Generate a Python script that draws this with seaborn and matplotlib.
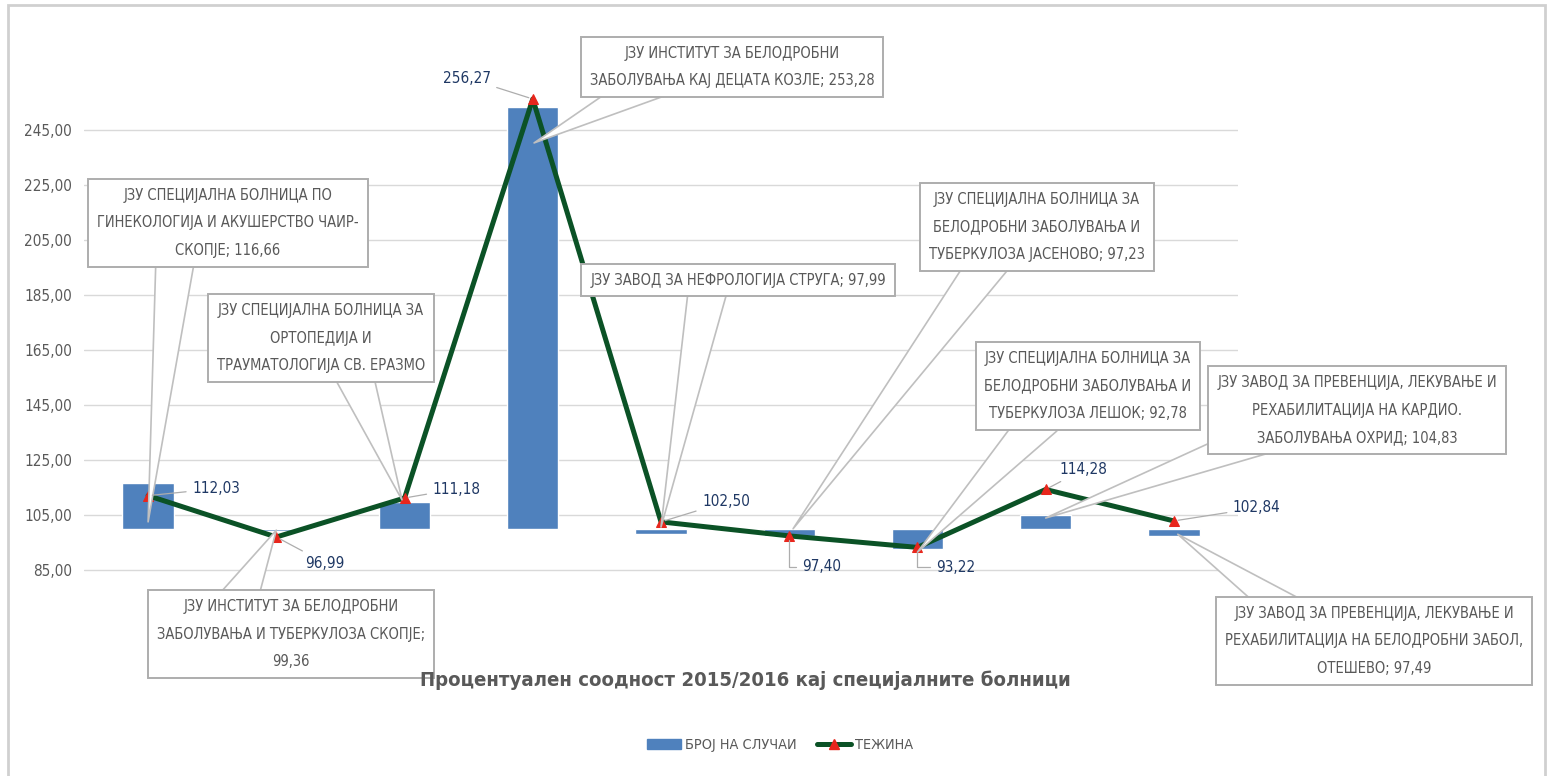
import numpy as np
import pandas as pd
import matplotlib
matplotlib.use("Agg")
import matplotlib.pyplot as plt
import seaborn as sns
from matplotlib.patches import Rectangle, Patch
from matplotlib.lines import Line2D

# hospital names (callout text, {v} = value of bar)
hospitals = [
    "ЈЗУ СПЕЦИЈАЛНА БОЛНИЦА ПО\nГИНЕКОЛОГИЈА И АКУШЕРСТВО ЧАИР-\nСКОПЈЕ; {v}",
    "ЈЗУ ИНСТИТУТ ЗА БЕЛОДРОБНИ\nЗАБОЛУВАЊА И ТУБЕРКУЛОЗА СКОПЈЕ;\n{v}",
    "ЈЗУ СПЕЦИЈАЛНА БОЛНИЦА ЗА\nОРТОПЕДИЈА И\nТРАУМАТОЛОГИЈА СВ. ЕРАЗМО",
    "ЈЗУ ИНСТИТУТ ЗА БЕЛОДРОБНИ\nЗАБОЛУВАЊА КАЈ ДЕЦАТА КОЗЛЕ; {v}",
    "ЈЗУ ЗАВОД ЗА НЕФРОЛОГИЈА СТРУГА; {v}",
    "ЈЗУ СПЕЦИЈАЛНА БОЛНИЦА ЗА\nБЕЛОДРОБНИ ЗАБОЛУВАЊА И\nТУБЕРКУЛОЗА ЈАСЕНОВО; {v}",
    "ЈЗУ СПЕЦИЈАЛНА БОЛНИЦА ЗА\nБЕЛОДРОБНИ ЗАБОЛУВАЊА И\nТУБЕРКУЛОЗА ЛЕШОК; {v}",
    "ЈЗУ ЗАВОД ЗА ПРЕВЕНЦИЈА, ЛЕКУВАЊЕ И\nРЕХАБИЛИТАЦИЈА НА КАРДИО.\nЗАБОЛУВАЊА ОХРИД; {v}",
    "ЈЗУ ЗАВОД ЗА ПРЕВЕНЦИЈА, ЛЕКУВАЊЕ И\nРЕХАБИЛИТАЦИЈА НА БЕЛОДРОБНИ ЗАБОЛ,\nОТЕШЕВО; {v}",
]
cases = [116.66, 99.36, 109.80, 253.28, 97.99, 97.23, 92.78, 104.83, 97.49]   # БРОЈ НА СЛУЧАИ
weight = [112.03, 96.99, 111.18, 256.27, 102.50, 97.40, 93.22, 114.28, 102.84]  # ТЕЖИНА
yticks = [85, 105, 125, 145, 165, 185, 205, 225, 245]
base = 100

blue = "#4F81BD"
green = "#0B5226"
red = "#E8261C"
gray_txt = "#595959"
navy = "#1F3864"
edge = "#ADADAD"

def fmt(v):
    return f"{v:.2f}".replace(".", ",")

sns.set_style("white")
plt.rcParams["font.family"] = ["Liberation Sans Narrow", "DejaVu Sans"]
plt.rcParams["font.stretch"] = "condensed"

fig = plt.figure(figsize=(15.5, 7.76), dpi=100)
ax = fig.add_axes([84 / 1550, 1 - 589.25 / 776, 1154 / 1550, (589.25 - 83.25) / 776])

pos = np.arange(len(cases))
df = pd.DataFrame({"pos": pos, "diff": np.array(cases) - base, "weight": weight})

sns.barplot(data=df, x="pos", y="diff", bottom=base, color=blue, width=0.4,
            errorbar=None, ax=ax, saturation=1, zorder=2)
sns.lineplot(data=df, x="pos", y="weight", color=green, lw=3.6, marker="^",
             markersize=7.5, markerfacecolor=red, markeredgecolor=red, sort=False,
             ax=ax, zorder=3)

ax.set_xlim(-0.5, 8.5)
ax.set_ylim(78, 262)
ax.set_yticks(yticks)
ax.set_yticklabels([fmt(t) for t in yticks], fontsize=11, color=gray_txt)
ax.set_xticks([])
ax.set_xlabel("")
ax.set_ylabel("")
ax.yaxis.grid(True, color="#D9D9D9", lw=1)
ax.set_axisbelow(True)
ax.tick_params(axis="y", length=0, pad=8.5)
for s in ax.spines.values():
    s.set_visible(False)

# value labels on the line (offset in pixels)
lab_off = [(44, 7), (29, -26), (28, 9), (-42, 21), (41, 20), (13, -31), (19, -20), (14, 20), (59, 13)]
lab_ha = ["left", "left", "left", "right", "left", "left", "left", "left", "left"]
lab_conn = ["arc3", "arc3", "arc3", "arc3", "arc3",
            "angle,angleA=0,angleB=90,rad=0", "angle,angleA=0,angleB=90,rad=0", "arc3", "arc3"]
for i, w in enumerate(weight):
    ax.annotate(fmt(w), xy=(i, w), xytext=lab_off[i], textcoords="offset pixels",
                ha=lab_ha[i], va="center", fontsize=11, color=navy, zorder=6,
                arrowprops=dict(arrowstyle="-", color=edge, lw=0.9, shrinkA=2, shrinkB=3,
                                connectionstyle=lab_conn[i]))

# callouts: wedge tip (data), box centre (figure pixels), wedge root on the box
tips = [(0, 102.5), (1, 99.5), (1.98, 110.5), (3.01, 240.3), (4, 100.6),
        (5.03, 100.0), (6, 91.5), (7, 103.9), (8.03, 98.0)]
boxes = [(228, 553), (291, 142), (321, 438), (732, 709), (738, 496),
         (1037, 549), (1088, 390), (1357, 366), (1374, 135)]
roots = [(0.3, 0.05), (0.3, 0.95), (0.65, 0.05), (0.28, 0.35), (0.4, 0.1),
         (0.29, 0.05), (0.28, 0.05), (0.29, 0.3), (0.29, 0.7)]
for i, name in enumerate(hospitals):
    ax.annotate(name.format(v=fmt(cases[i])), xy=tips[i], xytext=boxes[i],
                textcoords="figure pixels", ha="center", va="center",
                fontsize=10.5, color=gray_txt, linespacing=2.05, zorder=5,
                bbox=dict(boxstyle="square,pad=0.6", fc="white", ec=edge, lw=1.4),
                arrowprops=dict(arrowstyle="wedge,tail_width=2.7,shrink_factor=0.5",
                                fc="white", ec="#BFBFBF", lw=1.2, shrinkA=0, shrinkB=0,
                                patchA=None, relpos=roots[i]))

fig.text(745 / 1550, 1 - 680 / 776, "Процентуален соодност 2015/2016 кај специјалните болници",
         ha="center", va="center", fontsize=14.6, fontweight="bold", color=gray_txt)

handles = [Patch(color=blue),
           Line2D([], [], color=green, lw=3.6, marker="^", markersize=7.5,
                  markerfacecolor=red, markeredgecolor=red)]
fig.legend(handles, ["БРОЈ НА СЛУЧАИ", "ТЕЖИНА"], loc="center", ncol=2,
           bbox_to_anchor=(780 / 1550, 1 - 745 / 776), frameon=False,
           fontsize=10.4, labelcolor=gray_txt, handlelength=2.35, columnspacing=1.4,
           handletextpad=0.3)

fig.add_artist(Rectangle((8 / 1550, -0.01), 1537 / 1550, 1 - 5 / 776 + 0.01,
                         transform=fig.transFigure, fill=False, ec="#D0D0D0", lw=2))

fig.savefig("out.png", dpi=100)
